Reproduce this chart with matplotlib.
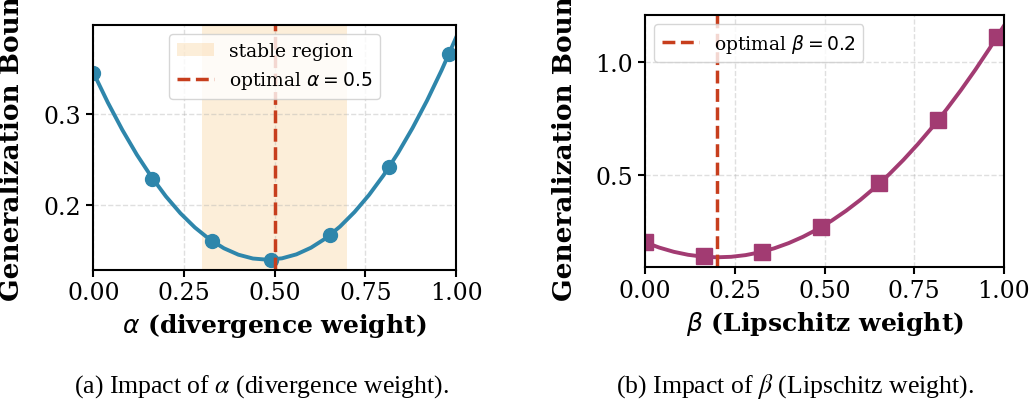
import matplotlib
matplotlib.use('Agg')
import matplotlib.pyplot as plt

plt.rcParams['font.family'] = 'DejaVu Serif'
plt.rcParams['mathtext.fontset'] = 'dejavusans'
plt.rcParams['axes.linewidth'] = 1.5

# curve samples
x_curve = [0.00, 0.04, 0.08, 0.12, 0.16, 0.20, 0.24, 0.28, 0.32, 0.36, 0.40, 0.44, 0.48,
           0.52, 0.56, 0.60, 0.64, 0.68, 0.72, 0.76, 0.80, 0.84, 0.88, 0.92, 0.96, 1.00]
alpha_bound = [0.3455, 0.3125, 0.2823, 0.2550, 0.2307, 0.2091, 0.1905, 0.1748, 0.1619,
               0.1519, 0.1448, 0.1406, 0.1393, 0.1408, 0.1452, 0.1525, 0.1627, 0.1758,
               0.1918, 0.2106, 0.2323, 0.2569, 0.2844, 0.3147, 0.3480, 0.3841]
beta_bound = [0.2014, 0.1777, 0.1592, 0.1459, 0.1378, 0.1348, 0.1370, 0.1444, 0.1570,
              0.1747, 0.1976, 0.2257, 0.2589, 0.2974, 0.3410, 0.3897, 0.4437, 0.5028,
              0.5671, 0.6366, 0.7112, 0.7911, 0.8761, 0.9662, 1.0616, 1.1620]

# marker positions
x_marks = [0.000, 0.163, 0.327, 0.490, 0.653, 0.816, 0.980]
alpha_marks = [0.3455, 0.2286, 0.1600, 0.1394, 0.1667, 0.2418, 0.3657]
beta_marks = [0.2014, 0.1385, 0.1600, 0.2680, 0.4650, 0.7426, 1.1110]

stable = (0.3, 0.7)
alpha_opt = 0.5
beta_opt = 0.2

blue = '#2E86AB'
purple = '#A23B72'
orange = '#F18F01'
red = '#C73E1D'

fig = plt.figure(figsize=(10.36, 4.06), dpi=100)
ax1 = fig.add_axes([0.0901, 0.3333, 0.3501, 0.6027])
ax2 = fig.add_axes([0.6226, 0.3392, 0.3465, 0.6222])

# (a) alpha
ax1.axvspan(stable[0], stable[1], color=orange, alpha=0.15, lw=0, label='stable region')
ax1.plot(x_curve, alpha_bound, color=blue, lw=2.8)
ax1.plot(x_marks, alpha_marks, 'o', color=blue, ms=10)
ax1.axvline(alpha_opt, color=red, ls='--', lw=2.5, label=r'optimal $\alpha=0.5$')
ax1.set_xlim(0, 1)
ax1.set_ylim(0.1283, 0.398)
ax1.set_yticks([0.2, 0.3])
ax1.set_xlabel(r'$\alpha$ (divergence weight)', fontsize=18, fontweight='bold', labelpad=5)
ax1.set_ylabel('Generalization Bound', fontsize=19, fontweight='bold')
ax1.yaxis.set_label_coords(-0.19, 0.535)
ax1.legend(loc='upper center', fontsize=13.5)

# (b) beta
ax2.plot(x_curve, beta_bound, color=purple, lw=2.8)
ax2.plot(x_marks, beta_marks, 's', color=purple, ms=11)
ax2.axvline(beta_opt, color=red, ls='--', lw=2.5, label=r'optimal $\beta=0.2$')
ax2.set_xlim(0, 1)
ax2.set_ylim(0.0905, 1.211)
ax2.set_yticks([0.5, 1.0])
ax2.set_xlabel(r'$\beta$ (Lipschitz weight)', fontsize=18, fontweight='bold', labelpad=5)
ax2.set_ylabel('Generalization Bound', fontsize=19, fontweight='bold')
ax2.yaxis.set_label_coords(-0.19, 0.51)
ax2.legend(loc='upper left', fontsize=13.5)

for ax in (ax1, ax2):
    ax.set_xticks([0, 0.25, 0.5, 0.75, 1.0])
    ax.tick_params(labelsize=17, width=1.5, length=5)
    ax.grid(True, ls='--', color='#b0b0b0', alpha=0.4, lw=1)

fig.text(0.252, 0.049, r'(a) Impact of $\alpha$ (divergence weight).', ha='center', va='center',
         fontsize=18.5, family='Liberation Serif', math_fontfamily='stix')
fig.text(0.767, 0.049, r'(b) Impact of $\beta$ (Lipschitz weight).', ha='center', va='center',
         fontsize=18.5, family='Liberation Serif', math_fontfamily='stix')

fig.savefig('out.png', dpi=100)
